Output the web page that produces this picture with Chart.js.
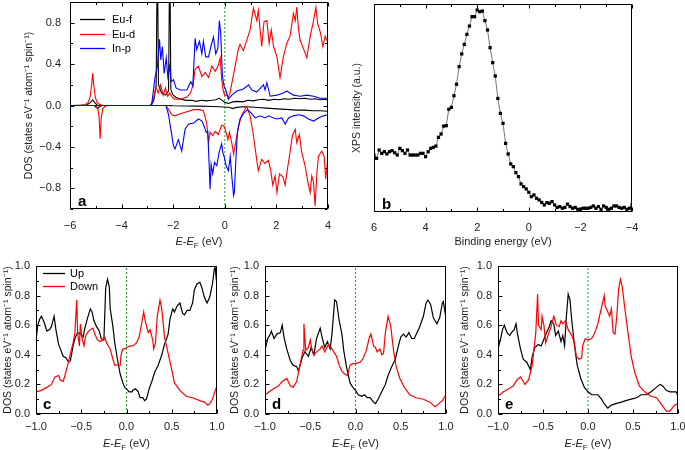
<!DOCTYPE html>
<html>
<head>
<meta charset="utf-8">
<script src="https://cdn.jsdelivr.net/npm/chart.js@4.4.0/dist/chart.umd.min.js"></script>
<style>
  body { margin: 0; background: #fff; }
  #wrap { position: relative; width: 685px; height: 450px; overflow: hidden; }
  .panel { position: absolute; }
</style>
</head>
<body>
<div id="wrap">
  <div class="panel" style="left:0;top:0"><canvas id="chartA" width="340" height="250"></canvas></div>
  <div class="panel" style="left:340px;top:0"><canvas id="chartB" width="345" height="250"></canvas></div>
  <div class="panel" style="left:0;top:250px"><canvas id="chartC" width="228" height="200"></canvas></div>
  <div class="panel" style="left:228px;top:250px"><canvas id="chartD" width="228" height="200"></canvas></div>
  <div class="panel" style="left:457px;top:250px"><canvas id="chartE" width="228" height="200"></canvas></div>
</div>
<script>
// ---- panel a : partial DOS, [E - EF (eV), DOS] ----
const euFUp = [[-6,0],[-5.35,0.005],[-5.2,0.03],[-5.12,0.055],[-5.05,0.03],[-4.95,0.005],[-4.8,0],[-2.85,0],[-2.75,0.05],[-2.66,0.2],[-2.615,1.5],[-2.605,1.5],[-2.57,0.2],[-2.45,0.12],[-2.3,0.1],[-2.18,0.14],[-2.135,1.5],[-2.125,1.5],[-2.09,0.15],[-2.0,0.1],[-1.9,0.08],[-1.7,0.06],[-1.5,0.05],[-1.3,0.05],[-1.1,0.04],[-0.9,0.05],[-0.7,0.045],[-0.5,0.05],[-0.35,0.055],[-0.22,0.07],[-0.1,0.05],[0,0.03],[0.15,0.02],[0.3,0.035],[0.5,0.04],[0.7,0.035],[0.9,0.05],[1.1,0.045],[1.3,0.055],[1.5,0.06],[1.7,0.05],[1.9,0.06],[2.1,0.055],[2.3,0.065],[2.5,0.06],[2.7,0.07],[2.9,0.065],[3.1,0.07],[3.3,0.06],[3.5,0.065],[3.7,0.055],[3.9,0.06],[4,0.05]];
const euFDown = [[-6,0],[-5.05,0],[-4.98,-0.02],[-4.93,-0.03],[-4.86,-0.01],[-4.75,0],[-2.3,0],[-2.0,-0.003],[-1.5,-0.005],[-1.0,-0.006],[-0.5,-0.01],[-0.2,-0.012],[0,-0.015],[0.2,-0.02],[0.3,-0.03],[0.45,-0.018],[0.7,-0.012],[1.0,-0.015],[1.3,-0.02],[1.6,-0.025],[1.9,-0.03],[2.2,-0.035],[2.5,-0.04],[2.8,-0.045],[3.1,-0.045],[3.4,-0.05],[3.7,-0.05],[4,-0.055]];
const euDUp = [[-6,0],[-5.6,0.003],[-5.4,0.01],[-5.3,0.03],[-5.22,0.08],[-5.16,0.2],[-5.12,0.31],[-5.08,0.2],[-5.02,0.08],[-4.95,0.03],[-4.85,0.01],[-4.7,0],[-2.85,0],[-2.75,0.08],[-2.67,0.18],[-2.58,0.12],[-2.49,0.2],[-2.39,0.1],[-2.3,0.17],[-2.22,0.09],[-2.13,0.12],[-2.04,0.08],[-1.94,0.06],[-1.74,0.06],[-1.48,0.08],[-1.33,0.12],[-1.23,0.2],[-1.15,0.35],[-1.02,0.38],[-0.89,0.28],[-0.76,0.32],[-0.63,0.27],[-0.5,0.38],[-0.37,0.33],[-0.25,0.39],[-0.18,0.46],[-0.12,0.25],[-0.06,0.14],[0,0.1],[0.07,0.1],[0.14,0.08],[0.2,0.12],[0.34,0.3],[0.53,0.55],[0.59,0.59],[0.72,0.53],[0.85,0.63],[0.98,0.73],[1.11,0.94],[1.24,0.82],[1.3,0.92],[1.43,0.57],[1.52,0.81],[1.63,0.82],[1.72,0.6],[1.8,0.73],[1.89,0.57],[2.02,0.47],[2.14,0.27],[2.27,0.47],[2.4,0.6],[2.53,0.67],[2.66,0.89],[2.73,0.82],[2.79,0.95],[2.86,0.73],[2.92,0.63],[3.05,0.55],[3.18,0.46],[3.31,0.67],[3.44,0.82],[3.53,0.95],[3.6,0.79],[3.7,0.71],[3.8,0.57],[3.89,0.67],[3.98,0.62]];
const euDDown = [[-6,0],[-5.0,0],[-4.92,-0.03],[-4.87,-0.12],[-4.83,-0.32],[-4.79,-0.12],[-4.73,-0.03],[-4.6,0],[-2.28,0],[-2.18,-0.04],[-2.05,-0.09],[-1.93,-0.1],[-1.73,-0.08],[-1.47,-0.06],[-1.21,-0.04],[-0.98,-0.04],[-0.83,-0.05],[-0.7,-0.17],[-0.63,-0.36],[-0.57,-0.26],[-0.47,-0.29],[-0.37,-0.25],[-0.25,-0.28],[-0.12,-0.19],[-0.03,-0.2],[0.05,-0.26],[0.12,-0.33],[0.18,-0.26],[0.27,-0.36],[0.34,-0.47],[0.4,-0.39],[0.53,-0.2],[0.66,-0.09],[0.85,-0.01],[0.98,-0.1],[1.11,-0.29],[1.24,-0.53],[1.3,-0.63],[1.43,-0.52],[1.56,-0.56],[1.69,-0.53],[1.78,-0.63],[1.86,-0.77],[1.95,-0.68],[2.02,-0.84],[2.12,-0.66],[2.25,-0.69],[2.34,-0.77],[2.43,-0.61],[2.53,-0.45],[2.62,-0.29],[2.73,-0.23],[2.79,-0.36],[2.89,-0.28],[2.98,-0.45],[3.11,-0.58],[3.22,-0.74],[3.31,-0.84],[3.37,-0.68],[3.44,-0.74],[3.5,-0.97],[3.57,-0.65],[3.63,-0.49],[3.76,-0.44],[3.85,-0.49],[3.91,-0.71],[3.98,-0.55]];
const inPUp = [[-6,0],[-2.9,0],[-2.83,0.02],[-2.7,0.28],[-2.61,0.38],[-2.53,0.64],[-2.48,0.44],[-2.42,0.57],[-2.35,0.31],[-2.27,0.46],[-2.21,0.28],[-2.14,0.38],[-2.08,0.23],[-1.99,0.25],[-1.89,0.17],[-1.73,0.15],[-1.47,0.15],[-1.32,0.23],[-1.24,0.19],[-1.15,0.65],[-1.09,0.54],[-0.98,0.62],[-0.89,0.5],[-0.83,0.62],[-0.74,0.47],[-0.63,0.47],[-0.54,0.57],[-0.44,0.66],[-0.35,0.5],[-0.27,0.55],[-0.21,0.82],[-0.16,0.7],[-0.09,0.28],[-0.03,0.19],[0.05,0.14],[0.14,0.06],[0.27,0.1],[0.47,0.14],[0.72,0.16],[0.92,0.2],[1.05,0.15],[1.24,0.13],[1.5,0.2],[1.56,0.15],[1.63,0.22],[1.76,0.09],[2.02,0.1],[2.27,0.12],[2.4,0.14],[2.66,0.1],[2.92,0.09],[3.18,0.1],[3.44,0.09],[3.7,0.07],[3.98,0.07]];
const inPDown = [[-6,0],[-2.28,0],[-2.18,-0.09],[-2.09,-0.23],[-1.99,-0.39],[-1.93,-0.42],[-1.8,-0.33],[-1.67,-0.44],[-1.54,-0.23],[-1.41,-0.18],[-1.21,-0.17],[-1.02,-0.13],[-0.89,-0.15],[-0.8,-0.2],[-0.72,-0.26],[-0.66,-0.25],[-0.61,-0.55],[-0.57,-0.81],[-0.53,-0.57],[-0.47,-0.66],[-0.4,-0.55],[-0.31,-0.58],[-0.22,-0.45],[-0.12,-0.37],[-0.08,-0.45],[-0.03,-0.49],[0.05,-0.58],[0.14,-0.63],[0.21,-0.49],[0.27,-0.68],[0.34,-0.87],[0.37,-0.84],[0.43,-0.52],[0.49,-0.26],[0.59,-0.13],[0.75,-0.07],[0.88,-0.04],[1.01,-0.07],[1.18,-0.12],[1.37,-0.1],[1.56,-0.12],[1.69,-0.1],[1.89,-0.12],[2.02,-0.13],[2.21,-0.12],[2.34,-0.18],[2.47,-0.12],[2.66,-0.1],[2.86,-0.09],[3.05,-0.1],[3.24,-0.13],[3.44,-0.15],[3.63,-0.12],[3.82,-0.1],[3.98,-0.09]];
const xTicksA = [-6, -4, -2, 0, 2, 4];
const yTicksA = [-0.8, -0.4, 0, 0.4, 0.8];

// ---- panel b : XPS valence band ----
const xpsEnergy = [6.0,5.9,5.8,5.7,5.6,5.5,5.4,5.3,5.2,5.1,5.0,4.9,4.8,4.7,4.6,4.5,4.4,4.3,4.2,4.1,4.0,3.9,3.8,3.7,3.6,3.5,3.4,3.3,3.2,3.1,3.0,2.9,2.8,2.7,2.6,2.5,2.4,2.3,2.2,2.1,2.0,1.9,1.8,1.7,1.6,1.5,1.4,1.3,1.2,1.1,1.0,0.9,0.8,0.7,0.6,0.5,0.4,0.3,0.2,0.1,0.0,-0.1,-0.2,-0.3,-0.4,-0.5,-0.6,-0.7,-0.8,-0.9,-1.0,-1.1,-1.2,-1.3,-1.4,-1.5,-1.6,-1.7,-1.8,-1.9,-2.0,-2.1,-2.2,-2.3,-2.4,-2.5,-2.6,-2.7,-2.8,-2.9,-3.0,-3.1,-3.2,-3.3,-3.4,-3.5,-3.6,-3.7,-3.8,-3.9,-4.0];
const xpsIntensity = [27.4,25.8,29.8,28.2,29.0,27.9,29.0,29.5,28.5,27.4,30.6,29.5,28.2,29.8,27.4,27.4,27.4,27.4,28.2,28.2,26.6,29.0,30.6,31.1,31.7,35.9,37.5,41.3,41.5,49.4,50.3,55.9,61.4,69.9,76.0,80.6,85.4,89.4,93.9,93.9,97.1,96.3,96.6,92.0,87.5,79.0,71.8,65.4,54.6,47.4,42.6,33.0,27.9,23.1,21.8,18.9,17.0,13.5,12.2,11.1,9.5,7.4,8.2,6.6,5.8,4.6,3.4,4.5,4.2,5.0,3.4,2.2,2.6,1.8,2.2,3.8,2.6,1.8,2.2,1.3,1.3,1.8,1.8,1.8,2.2,2.9,1.8,2.6,1.3,2.9,2.2,1.3,1.8,2.9,2.9,2.2,1.8,2.2,1.3,1.8,3.4];
const xTicksB = [6, 4, 2, 0, -2, -4];

// ---- panels c, d, e : total DOS near EF, [E - EF (eV), DOS] ----
const upC = [[-1.0,0.50],[-0.98,0.60],[-0.96,0.64],[-0.94,0.66],[-0.91,0.62],[-0.88,0.56],[-0.85,0.57],[-0.83,0.59],[-0.80,0.66],[-0.78,0.57],[-0.75,0.47],[-0.73,0.44],[-0.70,0.39],[-0.67,0.38],[-0.64,0.35],[-0.62,0.36],[-0.59,0.46],[-0.57,0.51],[-0.54,0.55],[-0.51,0.54],[-0.48,0.52],[-0.46,0.58],[-0.43,0.65],[-0.40,0.71],[-0.38,0.69],[-0.36,0.63],[-0.33,0.59],[-0.30,0.56],[-0.28,0.51],[-0.25,0.50],[-0.23,0.85],[-0.21,0.91],[-0.19,0.86],[-0.18,0.71],[-0.15,0.59],[-0.13,0.48],[-0.10,0.37],[-0.07,0.27],[-0.04,0.21],[-0.02,0.18],[0,0.17],[0.03,0.15],[0.06,0.15],[0.07,0.16],[0.10,0.17],[0.13,0.15],[0.15,0.11],[0.18,0.11],[0.20,0.09],[0.22,0.10],[0.25,0.17],[0.28,0.22],[0.31,0.28],[0.35,0.33],[0.39,0.40],[0.42,0.47],[0.46,0.54],[0.48,0.64],[0.51,0.71],[0.53,0.69],[0.56,0.73],[0.59,0.75],[0.62,0.68],[0.64,0.67],[0.67,0.70],[0.70,0.70],[0.73,0.75],[0.75,0.84],[0.78,0.88],[0.81,0.89],[0.83,0.86],[0.86,0.79],[0.89,0.75],[0.92,0.79],[0.95,0.88],[0.97,0.98],[0.98,0.99],[1.0,0.86]];
const downC = [[-1.0,0.15],[-0.94,0.16],[-0.88,0.18],[-0.83,0.20],[-0.79,0.25],[-0.75,0.26],[-0.73,0.23],[-0.70,0.22],[-0.68,0.26],[-0.65,0.33],[-0.62,0.41],[-0.59,0.48],[-0.57,0.55],[-0.55,0.77],[-0.54,0.55],[-0.52,0.46],[-0.51,0.61],[-0.49,0.51],[-0.47,0.46],[-0.45,0.53],[-0.42,0.56],[-0.40,0.57],[-0.37,0.58],[-0.35,0.54],[-0.32,0.50],[-0.29,0.49],[-0.26,0.50],[-0.24,0.52],[-0.22,0.48],[-0.18,0.44],[-0.15,0.37],[-0.13,0.33],[-0.10,0.33],[-0.07,0.33],[-0.06,0.40],[-0.04,0.44],[-0.02,0.44],[0,0.45],[0.04,0.46],[0.07,0.46],[0.11,0.48],[0.14,0.52],[0.17,0.62],[0.19,0.69],[0.21,0.62],[0.24,0.55],[0.26,0.57],[0.29,0.50],[0.30,0.44],[0.32,0.48],[0.34,0.66],[0.37,0.77],[0.39,0.71],[0.42,0.52],[0.46,0.41],[0.50,0.30],[0.53,0.21],[0.59,0.16],[0.66,0.12],[0.73,0.11],[0.81,0.09],[0.86,0.08],[0.90,0.06],[0.92,0.07],[0.95,0.10],[0.97,0.14],[1.0,0.19]];
const upD = [[-1.0,0.43],[-0.97,0.51],[-0.94,0.54],[-0.93,0.56],[-0.90,0.51],[-0.87,0.54],[-0.83,0.55],[-0.81,0.60],[-0.79,0.52],[-0.76,0.44],[-0.72,0.36],[-0.69,0.33],[-0.65,0.32],[-0.63,0.29],[-0.59,0.38],[-0.56,0.42],[-0.52,0.39],[-0.49,0.45],[-0.46,0.40],[-0.43,0.51],[-0.39,0.58],[-0.37,0.52],[-0.34,0.45],[-0.31,0.49],[-0.28,0.44],[-0.26,0.54],[-0.23,0.77],[-0.21,0.76],[-0.18,0.63],[-0.15,0.54],[-0.13,0.43],[-0.10,0.32],[-0.06,0.21],[-0.03,0.18],[0,0.16],[0.03,0.13],[0.07,0.12],[0.10,0.13],[0.13,0.11],[0.16,0.11],[0.20,0.08],[0.22,0.07],[0.25,0.10],[0.29,0.15],[0.33,0.20],[0.36,0.26],[0.40,0.32],[0.44,0.37],[0.47,0.45],[0.50,0.52],[0.53,0.54],[0.56,0.52],[0.59,0.55],[0.62,0.51],[0.65,0.51],[0.68,0.55],[0.71,0.59],[0.75,0.66],[0.78,0.75],[0.80,0.77],[0.83,0.74],[0.86,0.65],[0.90,0.61],[0.93,0.65],[0.96,0.75],[0.97,0.76],[1.0,0.65]];
const downD = [[-1.0,0.13],[-0.93,0.16],[-0.85,0.19],[-0.81,0.22],[-0.76,0.24],[-0.72,0.19],[-0.69,0.18],[-0.65,0.22],[-0.61,0.34],[-0.58,0.43],[-0.57,0.61],[-0.55,0.43],[-0.52,0.45],[-0.50,0.50],[-0.48,0.43],[-0.46,0.40],[-0.43,0.42],[-0.39,0.44],[-0.37,0.46],[-0.34,0.42],[-0.30,0.47],[-0.27,0.45],[-0.25,0.43],[-0.21,0.39],[-0.18,0.33],[-0.15,0.29],[-0.12,0.27],[-0.09,0.26],[-0.06,0.33],[-0.03,0.34],[0,0.34],[0.05,0.35],[0.08,0.37],[0.12,0.43],[0.15,0.51],[0.17,0.54],[0.20,0.46],[0.22,0.45],[0.24,0.42],[0.27,0.44],[0.29,0.40],[0.31,0.41],[0.33,0.55],[0.36,0.66],[0.39,0.59],[0.42,0.43],[0.45,0.32],[0.49,0.24],[0.54,0.18],[0.60,0.13],[0.67,0.11],[0.75,0.10],[0.82,0.08],[0.88,0.05],[0.92,0.07],[0.96,0.09],[1.0,0.13]];
const upE = [[-1.0,0.44],[-0.97,0.51],[-0.95,0.57],[-0.93,0.60],[-0.90,0.55],[-0.87,0.53],[-0.85,0.55],[-0.82,0.57],[-0.80,0.61],[-0.78,0.53],[-0.75,0.44],[-0.72,0.37],[-0.68,0.35],[-0.64,0.30],[-0.62,0.39],[-0.59,0.45],[-0.55,0.47],[-0.52,0.46],[-0.50,0.49],[-0.46,0.55],[-0.43,0.59],[-0.41,0.63],[-0.38,0.61],[-0.36,0.53],[-0.33,0.56],[-0.30,0.49],[-0.28,0.53],[-0.26,0.46],[-0.24,0.66],[-0.22,0.81],[-0.20,0.77],[-0.18,0.63],[-0.15,0.46],[-0.12,0.33],[-0.08,0.24],[-0.04,0.18],[0,0.15],[0.04,0.13],[0.07,0.13],[0.11,0.13],[0.15,0.10],[0.18,0.07],[0.22,0.04],[0.26,0.06],[0.31,0.07],[0.37,0.08],[0.42,0.09],[0.48,0.10],[0.54,0.11],[0.59,0.13],[0.65,0.13],[0.70,0.15],[0.76,0.18],[0.80,0.20],[0.83,0.19],[0.87,0.16],[0.91,0.15],[0.94,0.15],[0.98,0.15],[1.0,0.12]];
const downE = [[-1.0,0.12],[-0.94,0.15],[-0.88,0.17],[-0.83,0.19],[-0.79,0.23],[-0.75,0.25],[-0.73,0.23],[-0.70,0.20],[-0.66,0.23],[-0.62,0.33],[-0.60,0.44],[-0.58,0.55],[-0.56,0.81],[-0.55,0.60],[-0.52,0.57],[-0.51,0.66],[-0.49,0.60],[-0.47,0.48],[-0.44,0.54],[-0.41,0.59],[-0.38,0.66],[-0.35,0.60],[-0.32,0.59],[-0.30,0.63],[-0.28,0.61],[-0.25,0.63],[-0.22,0.57],[-0.18,0.53],[-0.15,0.48],[-0.13,0.39],[-0.10,0.37],[-0.07,0.38],[-0.06,0.46],[-0.03,0.51],[0,0.50],[0.04,0.51],[0.07,0.54],[0.11,0.61],[0.15,0.72],[0.18,0.80],[0.19,0.73],[0.22,0.69],[0.24,0.66],[0.26,0.71],[0.28,0.55],[0.30,0.54],[0.32,0.66],[0.34,0.84],[0.36,0.91],[0.38,0.86],[0.41,0.71],[0.44,0.57],[0.48,0.39],[0.52,0.28],[0.57,0.19],[0.63,0.15],[0.70,0.12],[0.76,0.11],[0.81,0.07],[0.87,0.02],[0.91,0.02],[0.96,0.06],[1.0,0.07]];
const xTicksCDE = [-1, -0.5, 0, 0.5, 1];
const yTicksCDE = [0, 0.2, 0.4, 0.6, 0.8, 1.0];

const DOS_TITLE = 'DOS (states eV\u207B\u00B9 atom\u207B\u00B9 spin\u207B\u00B9)';
const FONT = "'Liberation Sans', Arial, sans-serif";
Chart.defaults.font.family = FONT;
Chart.defaults.color = '#222';

// nombre avec vrai signe moins
function fmtNum(v, d) {
  return (v < -1e-9 ? '\u2212' : '') + Math.abs(v).toFixed(d);
}

function pts(arr) {
  return arr.map(p => ({ x: p[0], y: p[1] }));
}

function line(label, arr, color, order, width) {
  return { label: label, data: pts(arr), borderColor: color, backgroundColor: color,
           borderWidth: width || 1, pointRadius: 0, tension: 0, order: order };
}

// ligne pointillée verte au niveau de Fermi
function fermi(lo, hi) {
  return { label: '', data: [{ x: 0, y: lo }, { x: 0, y: hi }], borderColor: '#2a9a2a',
           borderWidth: 1, borderDash: [2, 2], pointRadius: 0, order: 9 };
}

// E-E_F avec indice
function drawEF(ctx, cx, y) {
  const parts = [['E', 'italic 11px ' + FONT, 0], ['-', '11px ' + FONT, 0], ['E', 'italic 11px ' + FONT, 0],
                 ['F', '8px ' + FONT, 3], [' (eV)', '11px ' + FONT, 0]];
  let w = 0;
  parts.forEach(p => { ctx.font = p[1]; w += ctx.measureText(p[0]).width; });
  let x = cx - w / 2;
  ctx.textAlign = 'left';
  ctx.textBaseline = 'alphabetic';
  parts.forEach(p => {
    ctx.font = p[1];
    ctx.fillText(p[0], x, y + p[2]);
    x += ctx.measureText(p[0]).width;
  });
}

// cadre, graduations intérieures, lettre, légende
const decor = {
  id: 'decor',
  afterDraw(chart, args, o) {
    if (!o || !o.on) return;
    const ctx = chart.ctx, a = chart.chartArea;
    const sx = chart.scales.x, sy = chart.scales.y;
    const L = Math.round(a.left) + 0.5, R = Math.round(a.right) - 0.5;
    const T = Math.round(a.top) + 0.5, B = Math.round(a.bottom) - 0.5;
    ctx.save();
    ctx.strokeStyle = '#000';
    ctx.lineWidth = 1;
    ctx.strokeRect(L, T, R - L, B - T);
    ctx.beginPath();
    const xt = (vals, len) => vals.forEach(v => {
      const px = Math.round(sx.getPixelForValue(v)) + 0.5;
      ctx.moveTo(px, B); ctx.lineTo(px, B - len);
      if (o.topTicks) { ctx.moveTo(px, T); ctx.lineTo(px, T + len); }
    });
    const yt = (vals, len) => vals.forEach(v => {
      const py = Math.round(sy.getPixelForValue(v)) + 0.5;
      if (o.leftTicks) { ctx.moveTo(L, py); ctx.lineTo(L + len, py); }
      if (o.rightTicks) { ctx.moveTo(R, py); ctx.lineTo(R - len, py); }
    });
    xt(o.xMajor, 4); xt(o.xMinor, 2.5);
    yt(o.yMajor || [], 4); yt(o.yMinor || [], 2.5);
    ctx.stroke();

    ctx.fillStyle = '#000';
    ctx.font = 'bold 15px ' + FONT;
    ctx.textAlign = 'left';
    ctx.textBaseline = 'alphabetic';
    ctx.fillText(o.letter, a.left + o.letterX, a.bottom - o.letterY);

    if (o.legend) {
      ctx.font = '11px ' + FONT;
      ctx.textBaseline = 'middle';
      o.legend.forEach((idx, i) => {
        const ds = chart.data.datasets[idx];
        const y = Math.round(a.top + o.legY + i * o.legDy) + 0.5;
        ctx.strokeStyle = ds.borderColor;
        ctx.lineWidth = 1.3;
        ctx.beginPath();
        ctx.moveTo(a.left + o.legX0, y); ctx.lineTo(a.left + o.legX1, y);
        ctx.stroke();
        ctx.fillStyle = '#000';
        ctx.fillText(ds.label, a.left + o.legTx, y);
      });
    }
    if (o.efTitle) {
      ctx.fillStyle = '#222';
      drawEF(ctx, (a.left + a.right) / 2, a.bottom + o.efTitle);
    }
    ctx.restore();
  }
};
Chart.register(decor);

function opts(p) {
  return {
    responsive: false,
    animation: false,
    layout: { padding: { top: p.top, right: p.right, left: 0, bottom: 0 } },
    plugins: { legend: { display: false }, tooltip: { enabled: false }, decor: p.decor },
    scales: {
      x: {
        type: 'linear', min: p.xMin, max: p.xMax, reverse: !!p.xReverse,
        grid: { display: false, drawTicks: false }, border: { display: false },
        afterBuildTicks: s => { s.ticks = p.xTicks.map(v => ({ value: v })); },
        afterFit: s => { s.height = p.xH; s.paddingLeft = 0; s.paddingRight = 0; },
        ticks: { padding: p.xPad, autoSkip: false, maxRotation: 0, font: { size: 11 },
                 callback: v => fmtNum(v, p.xDec) },
        title: p.xTitle ? { display: true, text: p.xTitle, font: { size: 11 }, padding: { top: 0, bottom: p.xTitlePad } }
                        : { display: false }
      },
      y: {
        type: 'linear', min: p.yMin, max: p.yMax,
        grid: { display: false, drawTicks: false }, border: { display: false },
        afterBuildTicks: s => { s.ticks = (p.yTicks || []).map(v => ({ value: v })); },
        afterFit: s => { s.width = p.yW; s.paddingTop = 0; s.paddingBottom = 0; },
        ticks: { display: !!p.yTicks, padding: p.yPad, autoSkip: false, font: { size: 11 },
                 callback: v => fmtNum(v, 1) },
        title: { display: true, text: p.yTitle, font: { size: 10.5 }, padding: { top: p.yTitlePad, bottom: 0 } }
      }
    }
  };
}

// ---- a ----
new Chart(document.getElementById('chartA'), {
  type: 'line',
  data: { datasets: [
    line('Eu-f', euFUp, '#000000', 3, 1.1), line('Eu-d', euDUp, '#ff0000', 2, 1.1), line('In-p', inPUp, '#0000ff', 1, 1.1),
    line('', euFDown, '#000000', 3, 1.1), line('', euDDown, '#ff0000', 2, 1.1), line('', inPDown, '#0000ff', 1, 1.1),
    fermi(-1, 1)
  ] },
  options: opts({
    top: 2, right: 12, xH: 41, yW: 70, xMin: -6, xMax: 4, xTicks: xTicksA, xDec: 0, xPad: 10,
    yMin: -1, yMax: 1, yTicks: yTicksA, yPad: 9, yTitle: DOS_TITLE, yTitlePad: 23,
    decor: { on: true, topTicks: true, leftTicks: true, rightTicks: true,
             xMajor: xTicksA, xMinor: [-5, -3, -1, 1, 3],
             yMajor: yTicksA, yMinor: [-1, -0.6, -0.2, 0.2, 0.6, 1],
             letter: 'a', letterX: 8, letterY: 3,
             legend: [0, 1, 2], legX0: 10, legX1: 35, legTx: 42, legY: 17, legDy: 14.5,
             efTitle: 36 }
  })
});

// ---- b ----
new Chart(document.getElementById('chartB'), {
  type: 'line',
  data: { datasets: [{
    label: 'XPS', data: xpsEnergy.map((e, i) => ({ x: e, y: xpsIntensity[i] })),
    borderColor: '#555', borderWidth: 0.8, pointStyle: 'rect', pointRadius: 2.3,
    pointBackgroundColor: '#000', pointBorderColor: '#000', pointBorderWidth: 0, tension: 0
  }] },
  options: opts({
    top: 4, right: 53, xH: 38, yW: 34, xMin: -4, xMax: 6, xReverse: true, xTicks: xTicksB, xDec: 0, xPad: 9,
    xTitle: 'Binding energy (eV)', xTitlePad: 1,
    yMin: 0, yMax: 100, yTicks: null, yPad: 0, yTitle: 'XPS intensity (a.u.)', yTitlePad: 11,
    decor: { on: true, topTicks: true, leftTicks: false, rightTicks: false,
             xMajor: xTicksB, xMinor: [5, 3, 1, -1, -3],
             letter: 'b', letterX: 8, letterY: 3 }
  })
});

// ---- c, d, e ----
function smallPanel(id, up, down, letter, leftOff, rightPad, titlePad, withLegend) {
  new Chart(document.getElementById(id), {
    type: 'line',
    data: { datasets: [line('Up', up, '#000000', 2, 1.2), line('Down', down, '#ff0000', 1, 1.2), fermi(0, 1)] },
    options: opts({
      top: 16, right: rightPad, xH: 36, yW: leftOff, xMin: -1, xMax: 1, xTicks: xTicksCDE, xDec: 1, xPad: 6,
      yMin: 0, yMax: 1, yTicks: yTicksCDE, yPad: 6, yTitle: DOS_TITLE, yTitlePad: titlePad,
      decor: { on: true, topTicks: false, leftTicks: true, rightTicks: false,
               xMajor: xTicksCDE, xMinor: [-0.75, -0.25, 0.25, 0.75],
               yMajor: yTicksCDE, yMinor: [0.1, 0.3, 0.5, 0.7, 0.9],
               letter: letter, letterX: 7, letterY: 5,
               legend: withLegend ? [0, 1] : null, legX0: 7, legX1: 29, legTx: 34, legY: 7, legDy: 13,
               efTitle: 33 }
    })
  });
}
smallPanel('chartC', upC, downC, 'c', 36, 11, 2, true);
smallPanel('chartD', upD, downD, 'd', 37, 10, 1, false);
smallPanel('chartE', upE, downE, 'e', 41, 7, 2, false);
</script>
</body>
</html>
